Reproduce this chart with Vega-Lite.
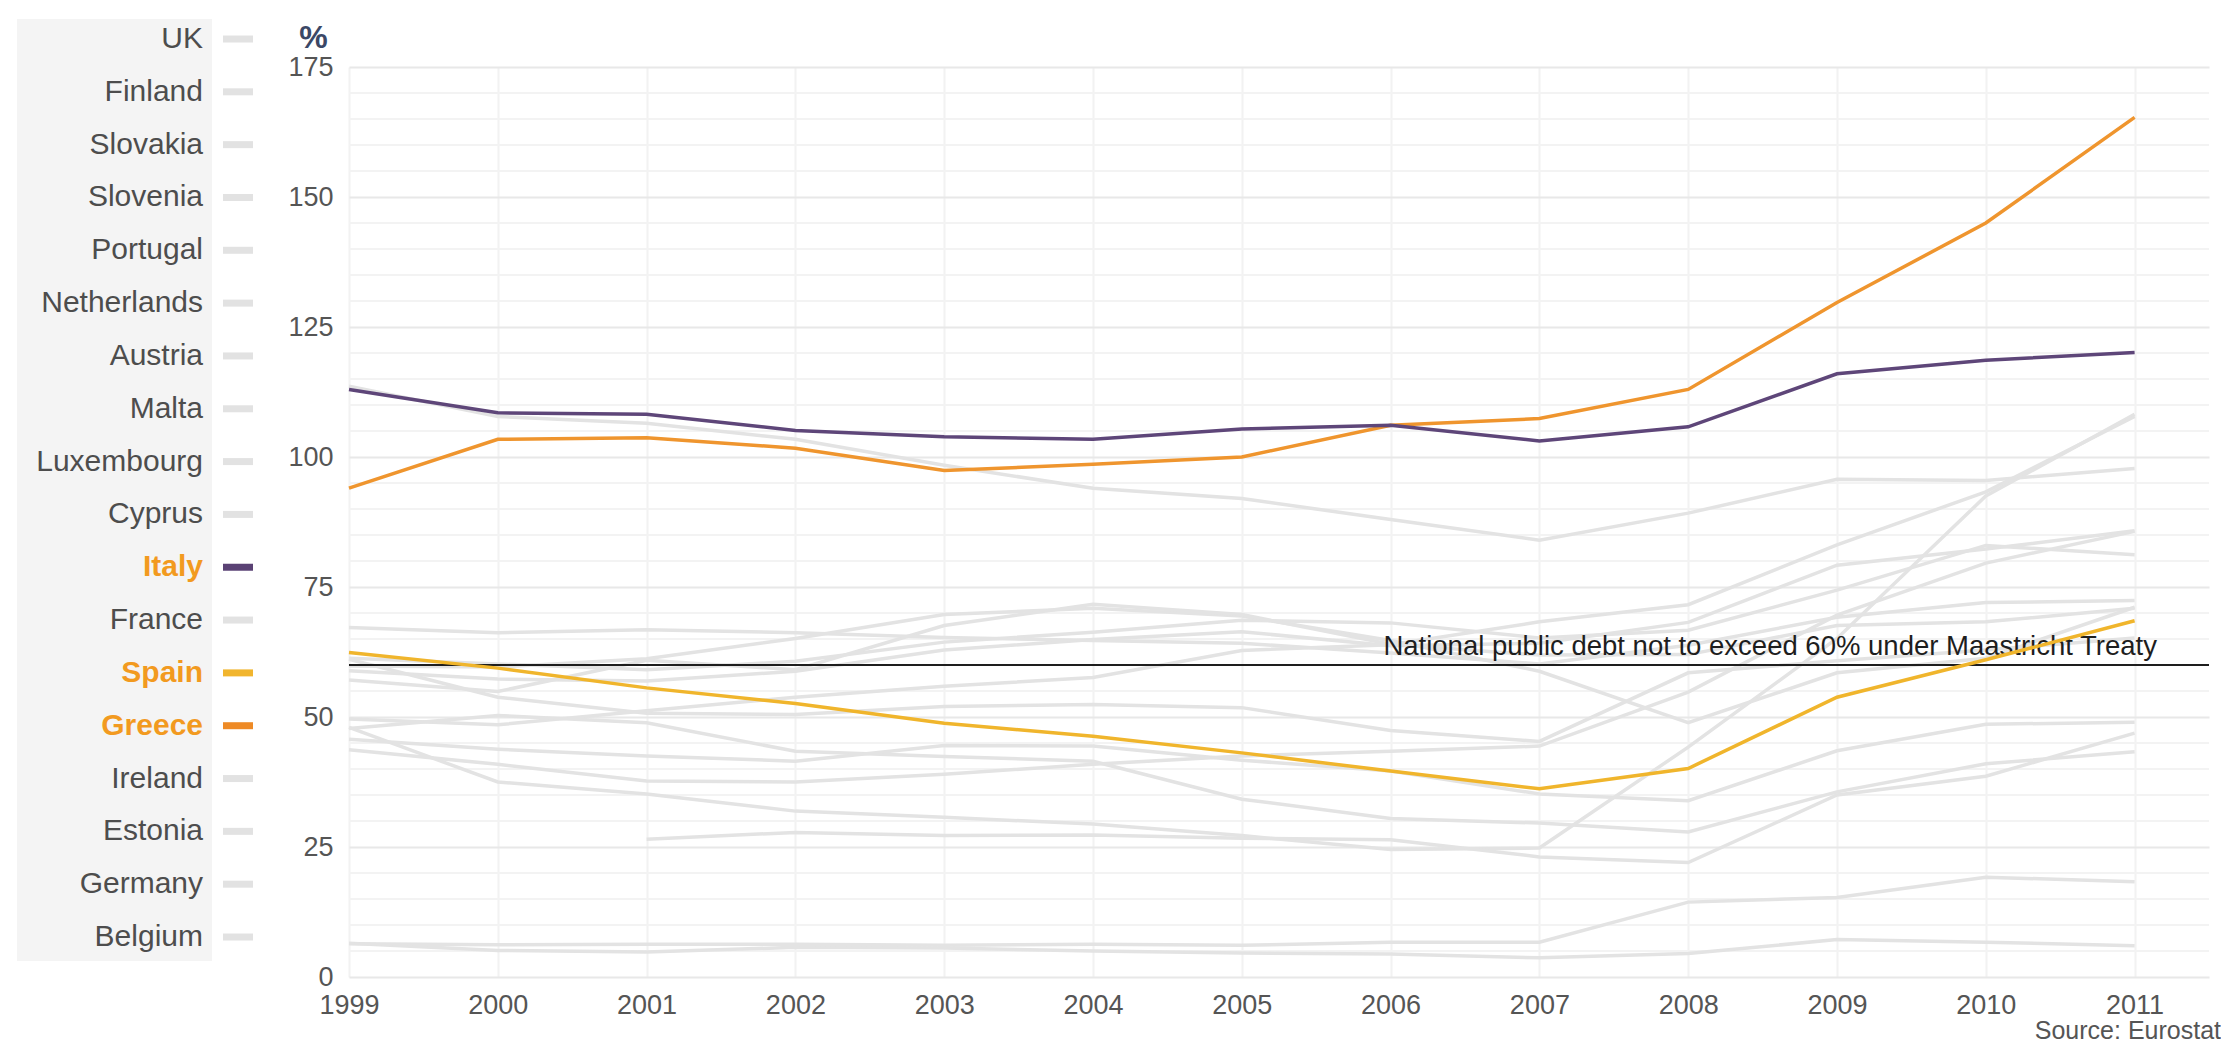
{
  "$schema": "https://vega.github.io/schema/vega-lite/v6.json",
  "background": "white",
  "padding": {"left": 0, "top": 18, "right": 0, "bottom": 0},
  "bounds": "flush",
  "spacing": 89,
  "config": {"view": {"stroke": null}, "font": "Liberation Sans"},
  "datasets": {
    "legend": [
      {"country": "UK", "row": 0}, {"country": "Finland", "row": 1}, {"country": "Slovakia", "row": 2},
      {"country": "Slovenia", "row": 3}, {"country": "Portugal", "row": 4}, {"country": "Netherlands", "row": 5},
      {"country": "Austria", "row": 6}, {"country": "Malta", "row": 7}, {"country": "Luxembourg", "row": 8},
      {"country": "Cyprus", "row": 9}, {"country": "Italy", "row": 10}, {"country": "France", "row": 11},
      {"country": "Spain", "row": 12}, {"country": "Greece", "row": 13}, {"country": "Ireland", "row": 14},
      {"country": "Estonia", "row": 15}, {"country": "Germany", "row": 16}, {"country": "Belgium", "row": 17}
    ],
    "minorgrid": [
      {"grid": 5}, {"grid": 10}, {"grid": 15}, {"grid": 20}, {"grid": 30}, {"grid": 35}, {"grid": 40}, {"grid": 45},
      {"grid": 55}, {"grid": 60}, {"grid": 65}, {"grid": 70}, {"grid": 80}, {"grid": 85}, {"grid": 90}, {"grid": 95},
      {"grid": 105}, {"grid": 110}, {"grid": 115}, {"grid": 120}, {"grid": 130}, {"grid": 135}, {"grid": 140}, {"grid": 145},
      {"grid": 155}, {"grid": 160}, {"grid": 165}, {"grid": 170}
    ],
    "debt": [
      {"country":"Greece","year":1999,"value":94.0},{"country":"Greece","year":2000,"value":103.4},{"country":"Greece","year":2001,"value":103.7},{"country":"Greece","year":2002,"value":101.7},{"country":"Greece","year":2003,"value":97.4},{"country":"Greece","year":2004,"value":98.6},{"country":"Greece","year":2005,"value":100.0},{"country":"Greece","year":2006,"value":106.1},{"country":"Greece","year":2007,"value":107.4},{"country":"Greece","year":2008,"value":113.0},{"country":"Greece","year":2009,"value":129.7},{"country":"Greece","year":2010,"value":145.0},{"country":"Greece","year":2011,"value":165.3},
      {"country":"Italy","year":1999,"value":113.0},{"country":"Italy","year":2000,"value":108.5},{"country":"Italy","year":2001,"value":108.2},{"country":"Italy","year":2002,"value":105.1},{"country":"Italy","year":2003,"value":103.9},{"country":"Italy","year":2004,"value":103.4},{"country":"Italy","year":2005,"value":105.4},{"country":"Italy","year":2006,"value":106.1},{"country":"Italy","year":2007,"value":103.1},{"country":"Italy","year":2008,"value":105.8},{"country":"Italy","year":2009,"value":116.0},{"country":"Italy","year":2010,"value":118.6},{"country":"Italy","year":2011,"value":120.1},
      {"country":"Spain","year":1999,"value":62.4},{"country":"Spain","year":2000,"value":59.4},{"country":"Spain","year":2001,"value":55.6},{"country":"Spain","year":2002,"value":52.6},{"country":"Spain","year":2003,"value":48.8},{"country":"Spain","year":2004,"value":46.3},{"country":"Spain","year":2005,"value":43.1},{"country":"Spain","year":2006,"value":39.6},{"country":"Spain","year":2007,"value":36.2},{"country":"Spain","year":2008,"value":40.1},{"country":"Spain","year":2009,"value":53.8},{"country":"Spain","year":2010,"value":61.0},{"country":"Spain","year":2011,"value":68.5},
      {"country":"Belgium","year":1999,"value":113.6},{"country":"Belgium","year":2000,"value":107.8},{"country":"Belgium","year":2001,"value":106.5},{"country":"Belgium","year":2002,"value":103.4},{"country":"Belgium","year":2003,"value":98.4},{"country":"Belgium","year":2004,"value":94.0},{"country":"Belgium","year":2005,"value":92.0},{"country":"Belgium","year":2006,"value":88.0},{"country":"Belgium","year":2007,"value":84.0},{"country":"Belgium","year":2008,"value":89.2},{"country":"Belgium","year":2009,"value":95.7},{"country":"Belgium","year":2010,"value":95.5},{"country":"Belgium","year":2011,"value":97.8},
      {"country":"Germany","year":1999,"value":61.3},{"country":"Germany","year":2000,"value":60.2},{"country":"Germany","year":2001,"value":59.1},{"country":"Germany","year":2002,"value":60.7},{"country":"Germany","year":2003,"value":64.4},{"country":"Germany","year":2004,"value":66.3},{"country":"Germany","year":2005,"value":68.6},{"country":"Germany","year":2006,"value":68.1},{"country":"Germany","year":2007,"value":65.2},{"country":"Germany","year":2008,"value":66.7},{"country":"Germany","year":2009,"value":74.4},{"country":"Germany","year":2010,"value":83.0},{"country":"Germany","year":2011,"value":81.2},
      {"country":"Estonia","year":1999,"value":6.5},{"country":"Estonia","year":2000,"value":5.1},{"country":"Estonia","year":2001,"value":4.8},{"country":"Estonia","year":2002,"value":5.7},{"country":"Estonia","year":2003,"value":5.6},{"country":"Estonia","year":2004,"value":5.0},{"country":"Estonia","year":2005,"value":4.6},{"country":"Estonia","year":2006,"value":4.4},{"country":"Estonia","year":2007,"value":3.7},{"country":"Estonia","year":2008,"value":4.5},{"country":"Estonia","year":2009,"value":7.2},{"country":"Estonia","year":2010,"value":6.7},{"country":"Estonia","year":2011,"value":6.0},
      {"country":"Ireland","year":1999,"value":48.0},{"country":"Ireland","year":2000,"value":37.5},{"country":"Ireland","year":2001,"value":35.2},{"country":"Ireland","year":2002,"value":31.9},{"country":"Ireland","year":2003,"value":30.7},{"country":"Ireland","year":2004,"value":29.4},{"country":"Ireland","year":2005,"value":27.2},{"country":"Ireland","year":2006,"value":24.5},{"country":"Ireland","year":2007,"value":24.8},{"country":"Ireland","year":2008,"value":44.2},{"country":"Ireland","year":2009,"value":65.1},{"country":"Ireland","year":2010,"value":92.5},{"country":"Ireland","year":2011,"value":108.2},
      {"country":"France","year":1999,"value":58.9},{"country":"France","year":2000,"value":57.3},{"country":"France","year":2001,"value":56.9},{"country":"France","year":2002,"value":58.8},{"country":"France","year":2003,"value":62.9},{"country":"France","year":2004,"value":64.9},{"country":"France","year":2005,"value":66.4},{"country":"France","year":2006,"value":63.7},{"country":"France","year":2007,"value":64.2},{"country":"France","year":2008,"value":68.2},{"country":"France","year":2009,"value":79.2},{"country":"France","year":2010,"value":82.3},{"country":"France","year":2011,"value":85.8},
      {"country":"Cyprus","year":1999,"value":59.8},{"country":"Cyprus","year":2000,"value":59.6},{"country":"Cyprus","year":2001,"value":61.2},{"country":"Cyprus","year":2002,"value":65.1},{"country":"Cyprus","year":2003,"value":69.7},{"country":"Cyprus","year":2004,"value":70.9},{"country":"Cyprus","year":2005,"value":69.4},{"country":"Cyprus","year":2006,"value":64.7},{"country":"Cyprus","year":2007,"value":58.8},{"country":"Cyprus","year":2008,"value":48.9},{"country":"Cyprus","year":2009,"value":58.5},{"country":"Cyprus","year":2010,"value":61.3},{"country":"Cyprus","year":2011,"value":71.1},
      {"country":"Luxembourg","year":1999,"value":6.4},{"country":"Luxembourg","year":2000,"value":6.2},{"country":"Luxembourg","year":2001,"value":6.3},{"country":"Luxembourg","year":2002,"value":6.3},{"country":"Luxembourg","year":2003,"value":6.1},{"country":"Luxembourg","year":2004,"value":6.3},{"country":"Luxembourg","year":2005,"value":6.1},{"country":"Luxembourg","year":2006,"value":6.7},{"country":"Luxembourg","year":2007,"value":6.7},{"country":"Luxembourg","year":2008,"value":14.4},{"country":"Luxembourg","year":2009,"value":15.3},{"country":"Luxembourg","year":2010,"value":19.2},{"country":"Luxembourg","year":2011,"value":18.3},
      {"country":"Malta","year":1999,"value":57.1},{"country":"Malta","year":2000,"value":54.9},{"country":"Malta","year":2001,"value":60.9},{"country":"Malta","year":2002,"value":59.1},{"country":"Malta","year":2003,"value":67.6},{"country":"Malta","year":2004,"value":71.7},{"country":"Malta","year":2005,"value":69.7},{"country":"Malta","year":2006,"value":64.0},{"country":"Malta","year":2007,"value":61.9},{"country":"Malta","year":2008,"value":62.0},{"country":"Malta","year":2009,"value":67.6},{"country":"Malta","year":2010,"value":68.3},{"country":"Malta","year":2011,"value":70.9},
      {"country":"Netherlands","year":1999,"value":61.1},{"country":"Netherlands","year":2000,"value":53.8},{"country":"Netherlands","year":2001,"value":50.7},{"country":"Netherlands","year":2002,"value":50.5},{"country":"Netherlands","year":2003,"value":52.0},{"country":"Netherlands","year":2004,"value":52.4},{"country":"Netherlands","year":2005,"value":51.8},{"country":"Netherlands","year":2006,"value":47.4},{"country":"Netherlands","year":2007,"value":45.3},{"country":"Netherlands","year":2008,"value":58.5},{"country":"Netherlands","year":2009,"value":60.8},{"country":"Netherlands","year":2010,"value":62.9},{"country":"Netherlands","year":2011,"value":65.2},
      {"country":"Austria","year":1999,"value":67.2},{"country":"Austria","year":2000,"value":66.2},{"country":"Austria","year":2001,"value":66.8},{"country":"Austria","year":2002,"value":66.2},{"country":"Austria","year":2003,"value":65.3},{"country":"Austria","year":2004,"value":64.7},{"country":"Austria","year":2005,"value":64.2},{"country":"Austria","year":2006,"value":62.3},{"country":"Austria","year":2007,"value":60.2},{"country":"Austria","year":2008,"value":63.8},{"country":"Austria","year":2009,"value":69.2},{"country":"Austria","year":2010,"value":72.0},{"country":"Austria","year":2011,"value":72.4},
      {"country":"Portugal","year":1999,"value":49.6},{"country":"Portugal","year":2000,"value":48.5},{"country":"Portugal","year":2001,"value":51.2},{"country":"Portugal","year":2002,"value":53.8},{"country":"Portugal","year":2003,"value":55.9},{"country":"Portugal","year":2004,"value":57.6},{"country":"Portugal","year":2005,"value":62.8},{"country":"Portugal","year":2006,"value":63.9},{"country":"Portugal","year":2007,"value":68.3},{"country":"Portugal","year":2008,"value":71.6},{"country":"Portugal","year":2009,"value":83.1},{"country":"Portugal","year":2010,"value":93.3},{"country":"Portugal","year":2011,"value":107.8},
      {"country":"Slovenia","year":2001,"value":26.5},{"country":"Slovenia","year":2002,"value":27.8},{"country":"Slovenia","year":2003,"value":27.2},{"country":"Slovenia","year":2004,"value":27.3},{"country":"Slovenia","year":2005,"value":26.7},{"country":"Slovenia","year":2006,"value":26.4},{"country":"Slovenia","year":2007,"value":23.1},{"country":"Slovenia","year":2008,"value":22.0},{"country":"Slovenia","year":2009,"value":35.0},{"country":"Slovenia","year":2010,"value":38.6},{"country":"Slovenia","year":2011,"value":46.9},
      {"country":"Slovakia","year":1999,"value":47.8},{"country":"Slovakia","year":2000,"value":50.3},{"country":"Slovakia","year":2001,"value":48.9},{"country":"Slovakia","year":2002,"value":43.4},{"country":"Slovakia","year":2003,"value":42.4},{"country":"Slovakia","year":2004,"value":41.5},{"country":"Slovakia","year":2005,"value":34.2},{"country":"Slovakia","year":2006,"value":30.5},{"country":"Slovakia","year":2007,"value":29.6},{"country":"Slovakia","year":2008,"value":27.9},{"country":"Slovakia","year":2009,"value":35.6},{"country":"Slovakia","year":2010,"value":41.0},{"country":"Slovakia","year":2011,"value":43.3},
      {"country":"Finland","year":1999,"value":45.7},{"country":"Finland","year":2000,"value":43.8},{"country":"Finland","year":2001,"value":42.5},{"country":"Finland","year":2002,"value":41.5},{"country":"Finland","year":2003,"value":44.5},{"country":"Finland","year":2004,"value":44.4},{"country":"Finland","year":2005,"value":41.7},{"country":"Finland","year":2006,"value":39.6},{"country":"Finland","year":2007,"value":35.2},{"country":"Finland","year":2008,"value":33.9},{"country":"Finland","year":2009,"value":43.5},{"country":"Finland","year":2010,"value":48.6},{"country":"Finland","year":2011,"value":49.0},
      {"country":"UK","year":1999,"value":43.7},{"country":"UK","year":2000,"value":40.9},{"country":"UK","year":2001,"value":37.7},{"country":"UK","year":2002,"value":37.5},{"country":"UK","year":2003,"value":39.0},{"country":"UK","year":2004,"value":40.9},{"country":"UK","year":2005,"value":42.5},{"country":"UK","year":2006,"value":43.4},{"country":"UK","year":2007,"value":44.4},{"country":"UK","year":2008,"value":54.8},{"country":"UK","year":2009,"value":69.6},{"country":"UK","year":2010,"value":79.6},{"country":"UK","year":2011,"value":85.7}
    ]
  },
  "hconcat": [
    {
      "width": 260,
      "height": 910,
      "layer": [
        {
          "data": {"values": [{"panel": "legend"}]},
          "mark": {"type": "rect", "fill": "#f4f4f4"},
          "encoding": {
            "x": {"datum": 17, "type": "quantitative", "scale": {"domain": [0, 260], "nice": false, "zero": false}, "axis": null},
            "x2": {"datum": 212},
            "y": {"datum": -0.379, "type": "quantitative", "scale": {"domain": [0.53, 17.757], "reverse": true, "nice": false, "zero": false}, "axis": null},
            "y2": {"datum": 17.454}
          }
        },
        {
          "data": {"name": "legend"},
          "mark": {"type": "rule", "strokeWidth": 7},
          "encoding": {
            "x": {"datum": 223, "type": "quantitative"},
            "x2": {"datum": 253},
            "y": {"field": "row", "type": "quantitative"},
            "color": {
              "condition": [
                {"test": "datum.country === 'Italy'", "value": "#5a4274"},
                {"test": "datum.country === 'Spain'", "value": "#f1b52e"},
                {"test": "datum.country === 'Greece'", "value": "#ee8a25"}
              ],
              "value": "#e2e2e2"
            }
          }
        },
        {
          "data": {"name": "legend"},
          "transform": [{"filter": "indexof(['Italy','Spain','Greece'], datum.country) < 0"}],
          "mark": {"type": "text", "align": "right", "baseline": "middle", "fontSize": 30, "color": "#4d4d4d"},
          "encoding": {
            "x": {"datum": 203, "type": "quantitative"},
            "y": {"field": "row", "type": "quantitative"},
            "text": {"field": "country"}
          }
        },
        {
          "data": {"name": "legend"},
          "transform": [{"filter": "indexof(['Italy','Spain','Greece'], datum.country) >= 0"}],
          "mark": {"type": "text", "align": "right", "baseline": "middle", "fontSize": 30, "fontWeight": "bold", "color": "#f29a1f"},
          "encoding": {
            "x": {"datum": 203, "type": "quantitative"},
            "y": {"field": "row", "type": "quantitative"},
            "text": {"field": "country"}
          }
        }
      ]
    },
    {
      "width": 1860,
      "height": 910,
      "title": {"text": "Source: Eurostat", "orient": "bottom", "anchor": "end", "frame": "group", "fontSize": 25, "fontWeight": "normal", "color": "#555555", "offset": 1, "dx": 12},
      "layer": [
        {
          "data": {"name": "minorgrid"},
          "mark": {"type": "rule", "stroke": "#f3f3f3", "strokeWidth": 2},
          "encoding": {
            "y": {
              "field": "grid", "type": "quantitative",
              "scale": {"domain": [0, 175], "nice": false},
              "axis": {
                "values": [0, 25, 50, 75, 100, 125, 150, 175],
                "title": "%", "titleAngle": 0, "titleX": -36, "titleY": -30, "titleAlign": "center", "titleBaseline": "middle",
                "titleFontSize": 32, "titleFontWeight": "bold", "titleColor": "#3b4866",
                "labelFontSize": 27, "labelColor": "#555555", "labelPadding": 16, "ticks": false, "domain": false,
                "gridColor": "#e8e8e8", "gridWidth": 2, "labelOverlap": false
              }
            }
          }
        },
        {
          "data": {"name": "debt"},
          "transform": [{"filter": "indexof(['Italy','Spain','Greece'], datum.country) < 0"}],
          "mark": {"type": "line", "stroke": "#e3e3e3", "strokeWidth": 3.5},
          "encoding": {
            "x": {
              "field": "year", "type": "quantitative",
              "scale": {"domain": [1999, 2011.5], "nice": false, "zero": false},
              "axis": {"values": [1999,2000,2001,2002,2003,2004,2005,2006,2007,2008,2009,2010,2011], "format": "d", "title": null, "labelFontSize": 27, "labelColor": "#555555", "labelPadding": 15, "ticks": false, "domain": false, "grid": true, "gridColor": "#f2f2f2", "gridWidth": 2, "labelFlush": false}
            },
            "y": {
              "field": "value", "type": "quantitative",
              "axis": {
                "values": [0, 25, 50, 75, 100, 125, 150, 175],
                "title": "%", "titleAngle": 0, "titleX": -36, "titleY": -30, "titleAlign": "center", "titleBaseline": "middle",
                "titleFontSize": 32, "titleFontWeight": "bold", "titleColor": "#3b4866",
                "labelFontSize": 27, "labelColor": "#555555", "labelPadding": 16, "ticks": false, "domain": false,
                "gridColor": "#e8e8e8", "gridWidth": 2, "labelOverlap": false
              }
            },
            "detail": {"field": "country"}
          }
        },
        {
          "data": {"values": [{"limit": 60}]},
          "mark": {"type": "rule", "stroke": "#1e1e1e", "strokeWidth": 2},
          "encoding": {"y": {"field": "limit", "type": "quantitative"}}
        },
        {
          "data": {"values": [{"limit": 60, "year": 2011.15, "note": "National public debt not to exceed 60% under Maastricht Treaty"}]},
          "mark": {"type": "text", "align": "right", "baseline": "alphabetic", "dy": -10, "fontSize": 27.5, "color": "#1e1e1e"},
          "encoding": {
            "x": {"field": "year", "type": "quantitative"},
            "y": {"field": "limit", "type": "quantitative"},
            "text": {"field": "note"}
          }
        },
        {
          "data": {"name": "debt"},
          "transform": [{"filter": "indexof(['Italy','Spain','Greece'], datum.country) >= 0"}],
          "mark": {"type": "line", "strokeWidth": 3.5},
          "encoding": {
            "x": {"field": "year", "type": "quantitative"},
            "y": {"field": "value", "type": "quantitative"},
            "color": {"field": "country", "type": "nominal", "scale": {"domain": ["Greece", "Italy", "Spain"], "range": ["#ef952e", "#5e4679", "#f0b52c"]}, "legend": null}
          }
        }
      ]
    }
  ]
}
